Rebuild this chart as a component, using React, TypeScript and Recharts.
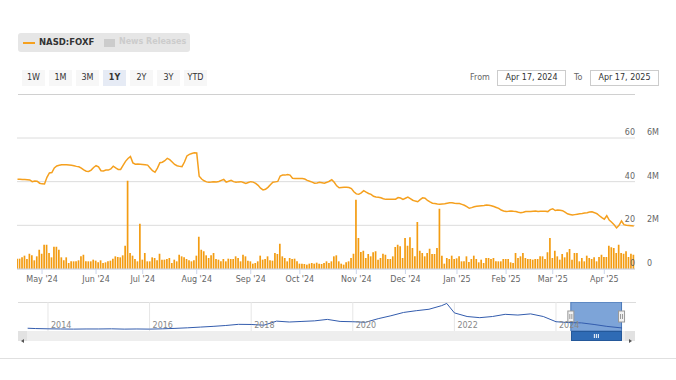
import {
  ComposedChart,
  LineChart,
  Bar,
  Line,
  XAxis,
  YAxis,
  CartesianGrid,
  ReferenceArea,
  ReferenceLine,
} from 'recharts'

// trading days (ordinal axis, weekends + market holidays skipped)
const startDate = '2024-04-17'
const endDate = '2025-04-17'
const holidays = [
  '2024-05-27', '2024-06-19', '2024-07-04', '2024-09-02', '2024-11-28',
  '2024-12-25', '2025-01-01', '2025-01-09', '2025-01-20', '2025-02-17',
]

// closing price, one array per month
const priceApr24 = [41.1, 41.1, 41.0, 41.0, 40.9, 40.8, 40.0, 40.3, 40.2, 39.3]
const priceMay24 = [39.0, 38.9, 42.0, 44.0, 44.2, 46.3, 47.2, 47.5, 47.7, 47.8, 47.7, 47.6, 47.5, 47.3, 47.0, 46.8, 46.2, 45.4, 44.8, 44.7, 45.3, 46.5]
const priceJun24 = [47.3, 46.8, 45.0, 44.9, 45.3, 45.3, 45.8, 47.1, 46.3, 45.6, 45.6, 47.5, 49.3, 50.6, 51.5, 48.6, 48.0, 48.1, 48.0]
const priceJul24 = [47.9, 47.8, 47.6, 46.3, 45.0, 44.3, 46.2, 48.7, 48.9, 49.6, 50.7, 50.1, 49.0, 47.9, 47.3, 47.0, 46.9, 49.0, 51.8, 52.5, 52.9, 53.2]
const priceAug24 = [53.1, 42.5, 41.2, 40.4, 39.9, 39.7, 39.8, 40.0, 39.9, 40.1, 40.6, 41.0, 39.8, 40.2, 40.6, 40.0, 39.7, 39.9, 40.0, 39.6, 39.2, 39.6]
const priceSep24 = [40.0, 39.8, 39.2, 38.3, 37.0, 36.2, 36.5, 37.4, 38.6, 39.7, 39.9, 40.1, 42.6, 43.0, 43.0, 43.3, 43.0, 41.6, 41.5, 41.5]
const priceOct24 = [41.5, 41.4, 41.2, 40.6, 40.2, 39.8, 39.3, 39.4, 39.7, 39.5, 39.3, 39.7, 40.2, 40.9, 39.7, 38.1, 37.2, 37.3, 37.4, 37.4, 37.3, 36.8, 35.4]
const priceNov24 = [34.4, 34.2, 34.9, 35.9, 35.2, 34.6, 34.2, 33.3, 33.0, 32.9, 32.6, 32.2, 31.9, 31.9, 31.9, 32.0, 32.0, 32.7, 32.5, 31.9]
const priceDec24 = [32.4, 32.9, 32.2, 31.5, 31.1, 30.8, 31.8, 32.6, 32.4, 31.4, 30.7, 30.1, 30.0, 29.8, 29.7, 29.8, 29.9, 30.1, 30.3, 30.3, 30.1]
const priceJan25 = [30.0, 30.0, 29.6, 29.2, 28.6, 27.8, 28.1, 28.5, 28.7, 28.9, 29.0, 29.1, 29.3, 29.2, 29.0, 28.6, 28.2, 27.8, 27.0, 26.6]
const priceFeb25 = [26.3, 26.4, 26.6, 26.4, 26.3, 26.0, 25.8, 26.0, 26.3, 26.3, 26.3, 26.5, 26.6, 26.3, 26.4, 26.5, 26.5, 26.3, 27.2]
const priceMar25 = [27.6, 26.8, 27.0, 26.9, 26.7, 26.0, 25.3, 25.0, 24.7, 24.9, 25.1, 25.3, 25.4, 25.6, 25.8, 26.1, 26.2, 25.8, 25.3, 24.4, 23.5]
const priceApr25 = [22.8, 24.4, 22.4, 21.4, 20.3, 18.8, 20.0, 22.0, 20.3, 20.0, 19.9, 19.8, 19.7]

// volume in thousands of shares
const volApr24 = [473, 473, 534, 611, 458, 702, 626, 397, 580, 886]
const volMay24 = [702, 1115, 1115, 733, 534, 1023, 1023, 886, 534, 397, 534, 275, 351, 351, 351, 397, 580, 657, 351, 351, 351, 428]
const volJun24 = [382, 305, 397, 275, 305, 351, 382, 473, 580, 550, 534, 626, 1069, 4047, 733, 611, 458, 351, 2077]
const volJul24 = [428, 733, 351, 351, 534, 504, 397, 702, 428, 428, 458, 504, 275, 428, 351, 657, 580, 534, 458, 397, 351, 397]
const volAug24 = [611, 1481, 886, 809, 626, 504, 626, 733, 458, 428, 351, 458, 351, 473, 458, 458, 580, 504, 351, 657, 580, 382]
const volSep24 = [351, 244, 275, 351, 611, 428, 458, 580, 397, 382, 733, 687, 1160, 580, 504, 351, 504, 458, 473, 351]
const volOct24 = [244, 244, 229, 199, 244, 275, 244, 290, 244, 229, 275, 351, 275, 351, 580, 626, 351, 244, 199, 305, 351, 504, 702]
const volNov24 = [3176, 1420, 779, 840, 504, 687, 580, 763, 809, 428, 504, 702, 657, 458, 458, 580, 1008, 1115, 1038, 504]
const volDec24 = [1420, 1069, 1451, 962, 580, 2153, 840, 733, 580, 733, 931, 687, 687, 962, 2764, 611, 244, 504, 458, 611, 458]
const volJan25 = [489, 580, 351, 351, 580, 321, 458, 611, 458, 305, 428, 275, 504, 504, 458, 504, 351, 351, 351, 458]
const volFeb25 = [458, 458, 305, 275, 733, 504, 580, 733, 504, 458, 458, 428, 458, 458, 580, 580, 458, 763, 1420]
const volMar25 = [504, 840, 580, 428, 687, 534, 763, 916, 428, 733, 733, 351, 504, 351, 611, 504, 458, 534, 351, 550, 657]
const volApr25 = [550, 550, 1069, 993, 962, 733, 1115, 733, 702, 809, 550, 702, 657]

const priceTicks = [0, 20, 40, 60]
const volTicks = [0, 2000, 4000, 6000]
const volLabels = ['0', '2M', '4M', '6M']
const monthNames = ['Jan', 'Feb', 'Mar', 'Apr', 'May', 'Jun', 'Jul', 'Aug', 'Sep', 'Oct', 'Nov', 'Dec']

// navigator: full history, roughly quarterly
const navYears = [2013.6, 2013.75, 2014.0, 2014.25, 2014.5, 2014.75, 2015.0, 2015.25, 2015.5, 2015.75, 2016.0, 2016.25, 2016.5, 2016.75, 2017.0, 2017.25, 2017.5, 2017.75, 2018.0, 2018.25, 2018.5, 2018.75, 2019.0, 2019.25, 2019.5, 2019.75, 2020.0, 2020.25, 2020.5, 2020.75, 2021.0, 2021.25, 2021.5, 2021.75, 2021.85, 2022.0, 2022.25, 2022.5, 2022.75, 2023.0, 2023.25, 2023.5, 2023.75, 2024.0, 2024.25, 2024.5, 2024.75, 2025.0, 2025.3]
const navPrices = [19, 17, 15, 14, 13, 14, 14, 15, 13, 14, 13, 15, 18, 22, 27, 32, 38, 46, 45, 40, 68, 62, 66, 70, 80, 66, 64, 60, 85, 105, 128, 140, 150, 175, 190, 125, 100, 92, 100, 115, 110, 118, 100, 64, 58, 56, 45, 32, 21]
const navYearTicks = [2014, 2016, 2018, 2020, 2022, 2024]

const rangeButtons = ['1W', '1M', '3M', '1Y', '2Y', '3Y', 'YTD']

const font = "'DejaVu Sans', Verdana, sans-serif"
const CHART_W = 676
const MARGIN = { top: 38, right: 39, left: 17, bottom: 6 }
const PLOT_RIGHT = 635

const NAV_LEFT = 18
const NAV_W = 618
const NAV_MIN = 2013.41
const NAV_MAX = 2025.575

function tradingDays() {
  const out: string[] = []
  const end = Date.parse(endDate + 'T00:00:00Z')
  for (let d = Date.parse(startDate + 'T00:00:00Z'); d <= end; d += 86400000) {
    const dt = new Date(d)
    const wd = dt.getUTCDay()
    const iso = dt.toISOString().slice(0, 10)
    if (wd !== 0 && wd !== 6 && !holidays.includes(iso)) out.push(iso)
  }
  return out
}

function yearFrac(iso: string) {
  const d = new Date(iso + 'T00:00:00Z')
  const y = d.getUTCFullYear()
  const start = Date.UTC(y, 0, 1)
  const next = Date.UTC(y + 1, 0, 1)
  return y + (d.getTime() - start) / (next - start)
}

const navX = (t: number) => NAV_LEFT + ((t - NAV_MIN) / (NAV_MAX - NAV_MIN)) * NAV_W

const days = tradingDays()
const prices = [
  ...priceApr24, ...priceMay24, ...priceJun24, ...priceJul24, ...priceAug24, ...priceSep24,
  ...priceOct24, ...priceNov24, ...priceDec24, ...priceJan25, ...priceFeb25, ...priceMar25, ...priceApr25,
]
const volumes = [
  ...volApr24, ...volMay24, ...volJun24, ...volJul24, ...volAug24, ...volSep24,
  ...volOct24, ...volNov24, ...volDec24, ...volJan25, ...volFeb25, ...volMar25, ...volApr25,
]
const data = days.map((date, i) => ({ i, date, price: prices[i], vol: volumes[i] }))

const monthTicks = days
  .map((d, i) => (i > 0 && d.slice(5, 7) !== days[i - 1].slice(5, 7) ? i : -1))
  .filter((i) => i >= 0)

const monthLabel = (i: number) => {
  const d = days[i]
  if (!d) return ''
  return `${monthNames[Number(d.slice(5, 7)) - 1]} '${d.slice(2, 4)}`
}

const navData = navYears.map((t, k) => ({ t, price: navPrices[k] }))
const selStart = yearFrac(startDate)
const selEnd = yearFrac(endDate)

const priceTick = (props: any) => (
  <text x={PLOT_RIGHT} y={props.y - 3} textAnchor="end" fontSize={8} fill="#666">
    {props.payload.value}
  </text>
)

const volTick = (props: any) => (
  <text x={PLOT_RIGHT + 12} y={props.y - 3} textAnchor="start" fontSize={8} fill="#666">
    {volLabels[volTicks.indexOf(props.payload.value)]}
  </text>
)

const MaskShape = (p: any) => {
  const hy = p.y + 9
  return (
    <g>
      <rect x={p.x} y={p.y} width={p.width} height={p.height} fill="rgba(70,125,200,0.7)" stroke="#4a78b8" />
      {[p.x, p.x + p.width].map((hx, k) => (
        <g key={k}>
          <rect x={hx - 3} y={hy} width={6} height={11} fill="#f2f2f2" stroke="#999" />
          <line x1={hx - 1} x2={hx - 1} y1={hy + 3} y2={hy + 8} stroke="#999" />
          <line x1={hx + 1} x2={hx + 1} y1={hy + 3} y2={hy + 8} stroke="#999" />
        </g>
      ))}
    </g>
  )
}

export default function App() {
  const thumbL = navX(selStart)
  const thumbR = navX(selEnd)
  return (
    <div style={{ position: 'relative', width: 676, height: 380, fontFamily: font, color: '#333' }}>
      <style>{'body{margin:0}'}</style>

      {/* legend */}
      <div style={{ position: 'absolute', left: 18, top: 33, width: 172, height: 19, background: '#e6e6e6', borderRadius: 3 }}>
        <div style={{ position: 'absolute', left: 5, top: 9, width: 12, height: 2, background: '#f5a01e' }} />
        <div style={{ position: 'absolute', left: 21, top: 4, fontSize: 8.5, fontWeight: 'bold', color: '#333' }}>NASD:FOXF</div>
        <div style={{ position: 'absolute', left: 86, top: 6, width: 11, height: 8, background: '#cccccc' }} />
        <div style={{ position: 'absolute', left: 101, top: 4, fontSize: 8, fontWeight: 'bold', color: '#cccccc' }}>News Releases</div>
      </div>

      {/* range selector */}
      {rangeButtons.map((b, k) => (
        <div
          key={b}
          style={{
            position: 'absolute',
            left: 22 + k * 27,
            top: 70,
            width: 23,
            height: 16,
            lineHeight: '16px',
            textAlign: 'center',
            fontSize: 8,
            background: b === '1Y' ? '#e6ebf5' : '#f7f7f7',
            fontWeight: b === '1Y' ? 'bold' : 'normal',
            color: '#333',
          }}
        >
          {b}
        </div>
      ))}
      <div style={{ position: 'absolute', left: 470, top: 73, fontSize: 8, color: '#666' }}>From</div>
      <div style={{ position: 'absolute', left: 497, top: 70, width: 67, height: 14, border: '1px solid #ccc', fontSize: 8, lineHeight: '14px', textAlign: 'center' }}>
        Apr 17, 2024
      </div>
      <div style={{ position: 'absolute', left: 574, top: 73, fontSize: 8, color: '#666' }}>To</div>
      <div style={{ position: 'absolute', left: 590, top: 70, width: 67, height: 14, border: '1px solid #ccc', fontSize: 8, lineHeight: '14px', textAlign: 'center' }}>
        Apr 17, 2025
      </div>
      <div style={{ position: 'absolute', left: 18, top: 94, width: 617, height: 1, background: '#d0d0d0' }} />

      {/* main chart */}
      <div style={{ position: 'absolute', left: 0, top: 100 }}>
        <ComposedChart width={CHART_W} height={200} data={data} margin={MARGIN}>
          <CartesianGrid yAxisId="price" vertical={false} stroke="#dcdcdc" />
          <XAxis
            type="number"
            dataKey="i"
            domain={[-0.2, 251.5]}
            allowDataOverflow
            ticks={monthTicks}
            interval={0}
            tickFormatter={monthLabel}
            tick={{ fontSize: 8, fill: '#666' }}
            tickSize={5}
            tickMargin={2}
            tickLine={{ stroke: '#ccd6eb' }}
            axisLine={{ stroke: '#ccd6eb' }}
            height={25}
          />
          <YAxis
            yAxisId="price"
            orientation="right"
            width={1}
            domain={[0, 60]}
            ticks={priceTicks}
            interval={0}
            axisLine={false}
            tickLine={false}
            tick={priceTick}
          />
          <YAxis
            yAxisId="vol"
            orientation="right"
            width={1}
            domain={[0, 6000]}
            ticks={volTicks}
            interval={0}
            axisLine={false}
            tickLine={false}
            tick={volTick}
          />
          <Bar yAxisId="vol" dataKey="vol" fill="#f39c12" barSize={1.7} isAnimationActive={false} />
          <Line
            yAxisId="price"
            type="linear"
            dataKey="price"
            stroke="#f5a01e"
            strokeWidth={1.5}
            dot={false}
            isAnimationActive={false}
          />
        </ComposedChart>
      </div>

      {/* navigator */}
      <div style={{ position: 'absolute', left: NAV_LEFT, top: 302, width: NAV_W, height: 1, background: '#dcdcdc' }} />
      <div style={{ position: 'absolute', left: NAV_LEFT, top: 302 }}>
        <LineChart width={NAV_W} height={29} data={navData} margin={{ top: 0, right: 0, left: 0, bottom: 0 }}>
          <XAxis type="number" dataKey="t" domain={[NAV_MIN, NAV_MAX]} allowDataOverflow hide />
          <YAxis domain={[0, 200]} hide />
          {navYearTicks.map((yr) => (
            <ReferenceLine
              key={yr}
              x={yr}
              stroke="#e6e6e6"
              label={{ value: String(yr), position: 'insideBottomLeft', offset: 3, fontSize: 8, fill: '#888' }}
            />
          ))}
          <Line type="linear" dataKey="price" stroke="#335cad" strokeWidth={1} dot={false} isAnimationActive={false} />
          <ReferenceArea x1={selStart} x2={selEnd} shape={<MaskShape />} />
        </LineChart>
      </div>

      {/* scrollbar */}
      <div style={{ position: 'absolute', left: 18, top: 331, width: 607, height: 10, background: '#eeeeee' }} />
      <div style={{ position: 'absolute', left: 18, top: 331, width: 9, height: 10, background: '#e2e2e2' }}>
        <svg width={9} height={10}>
          <path d="M6 3 L3 5 L6 7 Z" fill="#555" />
        </svg>
      </div>
      <div style={{ position: 'absolute', left: 625, top: 331, width: 10, height: 10, background: '#e2e2e2' }}>
        <svg width={10} height={10}>
          <path d="M4 3 L7 5 L4 7 Z" fill="#555" />
        </svg>
      </div>
      <div
        style={{
          position: 'absolute',
          left: thumbL,
          top: 331,
          width: thumbR - thumbL,
          height: 10,
          background: '#2f6bb5',
          boxSizing: 'border-box',
          border: '1px solid #24589a',
        }}
      >
        <svg width={thumbR - thumbL - 2} height={8} style={{ position: 'absolute', left: 0, top: 0 }}>
          {[-2, 0, 2].map((dx) => (
            <line
              key={dx}
              x1={(thumbR - thumbL - 2) / 2 + dx}
              x2={(thumbR - thumbL - 2) / 2 + dx}
              y1={2}
              y2={6}
              stroke="#fff"
            />
          ))}
        </svg>
      </div>

      <div style={{ position: 'absolute', left: 0, top: 358, width: 676, height: 1, background: '#e0e0e0' }} />
    </div>
  )
}
